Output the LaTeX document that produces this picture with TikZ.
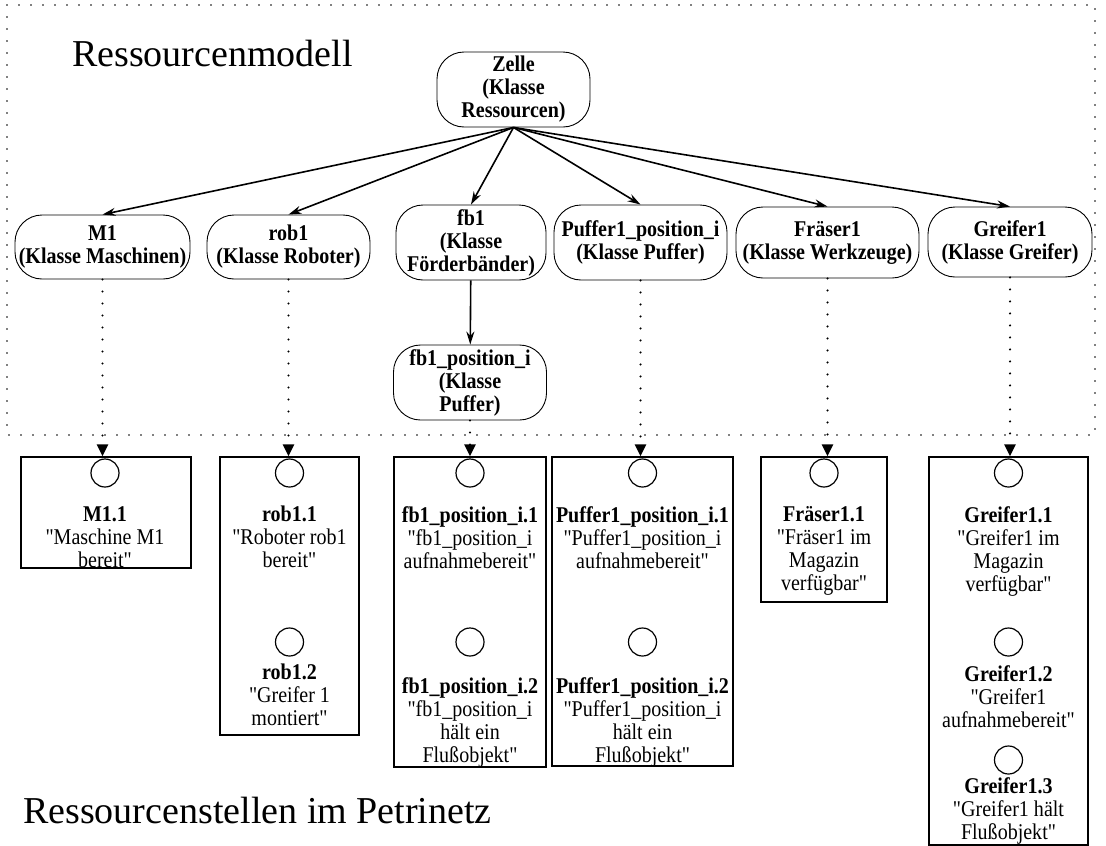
\documentclass[tikz,border=0pt]{standalone}
\usepackage{fontspec}
\setmainfont{Liberation Serif}
\newfontfamily\nodefont{Liberation Serif}[FakeStretch=0.89]
\usetikzlibrary{arrows.meta}
\begin{document}
\begin{tikzpicture}[x=1pt,y=-1pt,
  cls/.style={draw, line width=0.9pt, rounded corners=27pt, inner sep=0pt, align=center,
    font=\nodefont\fontsize{22.5}{23}\selectfont\bfseries},
  place/.style={draw, circle, line width=1.2pt, minimum size=28pt, inner sep=0pt},
  stellbox/.style={draw, line width=1.4pt, inner sep=0pt},
  lbl/.style={anchor=north, align=center, inner sep=0pt, font=\nodefont\fontsize{22.5}{23}\selectfont},
  hier/.style={line width=1.6pt, -{Stealth[length=13pt,width=8pt]}},
  maps/.style={line width=2.4pt, line cap=round, dash pattern=on 0pt off 12pt,
    -{Triangle[length=12pt,width=11pt]}},
  frame/.style={line width=1.8pt, line cap=round, dash pattern=on 0pt off 12pt},
  heading/.style={anchor=base west, inner sep=0pt, font=\fontsize{38}{44}\selectfont},
]
\useasboundingbox (0,0) rectangle (1106,846);

% dotted frame of the resource model
\draw[frame] (7,5) rectangle (1095,435);

\node[heading] (t1) at (72,66) {Ressourcenmodell};
\node[heading] (t2) at (23,823) {Ressourcenstellen im Petrinetz};

% resource model: classes
\node[cls, minimum width=153pt, minimum height=75pt] (zelle) at (513.5,89.5) {Zelle\\(Klasse\\Ressourcen)};
\node[cls, minimum width=175pt, minimum height=64pt] (m1) at (102.5,247) {M1\\(Klasse Maschinen)};
\node[cls, minimum width=163pt, minimum height=64pt] (rob1) at (288.5,247) {rob1\\(Klasse Roboter)};
\node[cls, minimum width=150pt, minimum height=75pt] (fb1) at (471,242.5) {fb1\\(Klasse\\Förderbänder)};
\node[cls, minimum width=173pt, minimum height=75pt] (puffer) at (640.5,242.5) {Puffer1\_position\_i\\(Klasse Puffer)};
\node[cls, minimum width=183pt, minimum height=71pt] (fraeser) at (827.5,242.5) {Fräser1\\(Klasse Werkzeuge)};
\node[cls, minimum width=164pt, minimum height=70pt] (greifer) at (1010,242) {Greifer1\\(Klasse Greifer)};
\node[cls, minimum width=153pt, minimum height=75pt] (fbpos) at (470,382.5) {fb1\_position\_i\\(Klasse\\Puffer)};

\foreach \n in {m1,rob1,fb1,puffer,fraeser,greifer}
  \draw[hier] (zelle.south) -- (\n.north);
\draw[hier] (fb1) -- (fbpos);

% resource places in the Petri net
\node[stellbox, minimum width=170pt, minimum height=111pt] (m1box) at (106,512.5) {};
\node[stellbox, minimum width=139pt, minimum height=278pt] (robbox) at (289.5,596) {};
\node[stellbox, minimum width=152pt, minimum height=310pt] (fbbox) at (470,612) {};
\node[stellbox, minimum width=181pt, minimum height=309pt] (pufbox) at (642.5,611.5) {};
\node[stellbox, minimum width=126pt, minimum height=145pt] (fraebox) at (824,529.5) {};
\node[stellbox, minimum width=159pt, minimum height=388pt] (greibox) at (1008.5,651) {};

\draw[maps] (m1.south) -- (m1.south |- m1box.north);
\draw[maps] (rob1.south) -- (rob1.south |- robbox.north);
\draw[maps] (fbpos.south) -- (fbpos.south |- fbbox.north);
\draw[maps] (puffer.south) -- (puffer.south |- pufbox.north);
\draw[maps] (fraeser.south) -- (fraeser.south |- fraebox.north);
\draw[maps] (greifer.south) -- (greifer.south |- greibox.north);

% M1
\node[place] (p-m1-1) at (105,473) {};
\node[lbl] (l-m1-1) at (105,506) {\textbf{M1.1}\\"Maschine M1\\bereit"};
% rob1
\node[place] (p-rob-1) at (289.5,473) {};
\node[lbl] (l-rob-1) at (289.5,506) {\textbf{rob1.1}\\"Roboter rob1\\bereit"};
\node[place] (p-rob-2) at (289.5,642) {};
\node[lbl] (l-rob-2) at (289.5,664) {\textbf{rob1.2}\\"Greifer 1\\montiert"};
% fb1
\node[place] (p-fb-1) at (470,473) {};
\node[lbl] (l-fb-1) at (470,506) {\textbf{fb1\_position\_i.1}\\"fb1\_position\_i\\aufnahmebereit"};
\node[place] (p-fb-2) at (470,642) {};
\node[lbl] (l-fb-2) at (470,677) {\textbf{fb1\_position\_i.2}\\"fb1\_position\_i\\hält ein\\Flußobjekt"};
% Puffer1
\node[place] (p-puf-1) at (642.5,473) {};
\node[lbl] (l-puf-1) at (642.5,506) {\textbf{Puffer1\_position\_i.1}\\"Puffer1\_position\_i\\aufnahmebereit"};
\node[place] (p-puf-2) at (642.5,642) {};
\node[lbl] (l-puf-2) at (642.5,677) {\textbf{Puffer1\_position\_i.2}\\"Puffer1\_position\_i\\hält ein\\Flußobjekt"};
% Fräser1
\node[place] (p-frae-1) at (824,473) {};
\node[lbl] (l-frae-1) at (824,506) {\textbf{Fräser1.1}\\"Fräser1 im\\Magazin\\verfügbar"};
% Greifer1
\node[place] (p-grei-1) at (1008.5,473) {};
\node[lbl] (l-grei-1) at (1008.5,506) {\textbf{Greifer1.1}\\"Greifer1 im\\Magazin\\verfügbar"};
\node[place] (p-grei-2) at (1008.5,642) {};
\node[lbl] (l-grei-2) at (1008.5,665) {\textbf{Greifer1.2}\\"Greifer1\\aufnahmebereit"};
\node[place] (p-grei-3) at (1008.5,760) {};
\node[lbl] (l-grei-3) at (1008.5,777) {\textbf{Greifer1.3}\\"Greifer1 hält\\Flußobjekt"};
\end{tikzpicture}
\end{document}
